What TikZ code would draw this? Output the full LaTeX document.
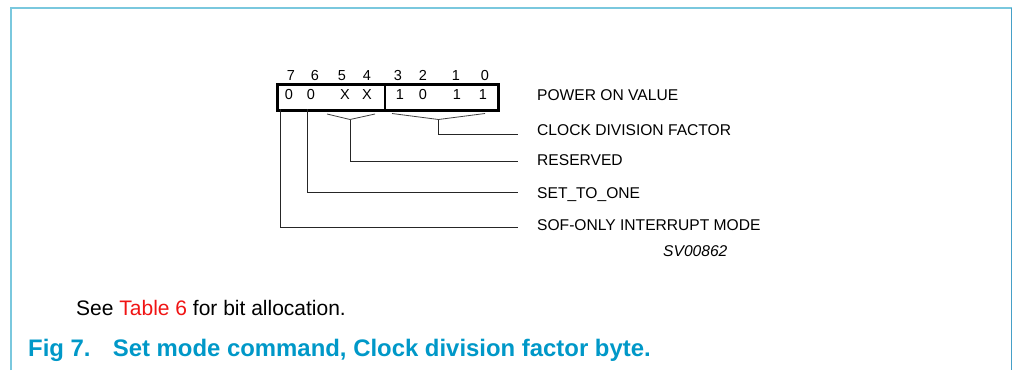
\documentclass[tikz,border=0pt]{standalone}
\usepackage{fontspec}
\setmainfont{Liberation Sans}
\definecolor{framec}{RGB}{122,200,222}
\definecolor{framer}{RGB}{70,160,200}
\definecolor{capc}{RGB}{0,152,200}
\definecolor{linkc}{RGB}{240,20,20}
\begin{document}
\begin{tikzpicture}[x=1pt,y=-1pt,
  lbl/.style={anchor=base west,inner sep=0pt,font=\fontsize{15.6}{18}\selectfont},
  dig/.style={anchor=base,inner sep=0pt,font=\fontsize{14.5}{16}\selectfont},
  conn/.style={line width=0.9pt,draw=black!85},
  brk/.style={line width=0.8pt,draw=black!75}]
\useasboundingbox (0,0) rectangle (1012,370);
% frame
\draw[framec,line width=2.2pt] (11,370) -- (11,8) -- (1012,8);
\draw[framer,line width=1pt] (1011,8) -- (1011,370);
% register box
\node[draw,line width=2.8pt,minimum width=221pt,minimum height=26pt,inner sep=0pt,anchor=north west] (box) at (276,83) {};
\coordinate (divt) at (385,83);
\coordinate (divb) at (385,109);
\draw[line width=2.4pt] (divt) -- (divb);
% bit numbers
\node[dig] (b7) at (291,80.5) {7};
\node[dig] (b6) at (315,80.5) {6};
\node[dig] (b5) at (342,80.5) {5};
\node[dig] (b4) at (367,80.5) {4};
\node[dig] (b3) at (398,80.5) {3};
\node[dig] (b2) at (423,80.5) {2};
\node[dig] (b1) at (456,80.5) {1};
\node[dig] (b0) at (485,80.5) {0};
% values
\node[dig] (v7) at (289,99.2) {0};
\node[dig] (v6) at (311,99.2) {0};
\node[dig] (v5) at (345,99.2) {X};
\node[dig] (v4) at (367,99.2) {X};
\node[dig] (v3) at (400,99.2) {1};
\node[dig] (v2) at (423,99.2) {0};
\node[dig] (v1) at (457,99.2) {1};
\node[dig] (v0) at (483,99.2) {1};
% labels
\node[lbl] (pov) at (537,100.3) {POWER ON VALUE};
\node[lbl] (cdf) at (537,135.6) {CLOCK DIVISION FACTOR};
\node[lbl] (res) at (537,165.1) {RESERVED};
\node[lbl] (sto) at (537,198.3) {SET\_TO\_ONE};
\node[lbl] (sof) at (537,230.6) {SOF-ONLY INTERRUPT MODE};
\node[lbl,font=\fontsize{15.6}{18}\selectfont\itshape] (sv) at (663,256.6) {SV00862};
% brackets
\coordinate (rl) at (327,114);
\coordinate (rm) at (350,119.5);
\coordinate (rr) at (375,114);
\coordinate (cl) at (392,113.5);
\coordinate (cm) at (438.5,119.5);
\coordinate (cr) at (485,113.5);
\draw[brk] (rl) -- (rm) -- (rr);
\draw[brk] (cl) -- (cm) -- (cr);
% connector ends
\coordinate (ce) at (518,134);
\coordinate (re) at (518,161.7);
\coordinate (se) at (518,192.7);
\coordinate (oe) at (518,227.3);
\coordinate (s6) at (307.5,109);
\coordinate (s7) at (280.5,109);
\draw[conn] (cm) |- (ce);
\draw[conn] (rm) |- (re);
\draw[conn] (s6) |- (se);
\draw[conn] (s7) |- (oe);
% texts
\node[anchor=base west,inner sep=0pt,font=\fontsize{21}{24}\selectfont] (see) at (76,315) {See \textcolor{linkc}{Table 6} for bit allocation.};
\node[anchor=base west,inner sep=0pt,font=\fontsize{23.9}{27}\selectfont\bfseries,text=capc] (figl) at (28,356) {Fig 7.};
\node[anchor=base west,inner sep=0pt,font=\fontsize{23.9}{27}\selectfont\bfseries,text=capc] (figt) at (112.7,356) {Set mode command, Clock division factor byte.};
\end{tikzpicture}
\end{document}
